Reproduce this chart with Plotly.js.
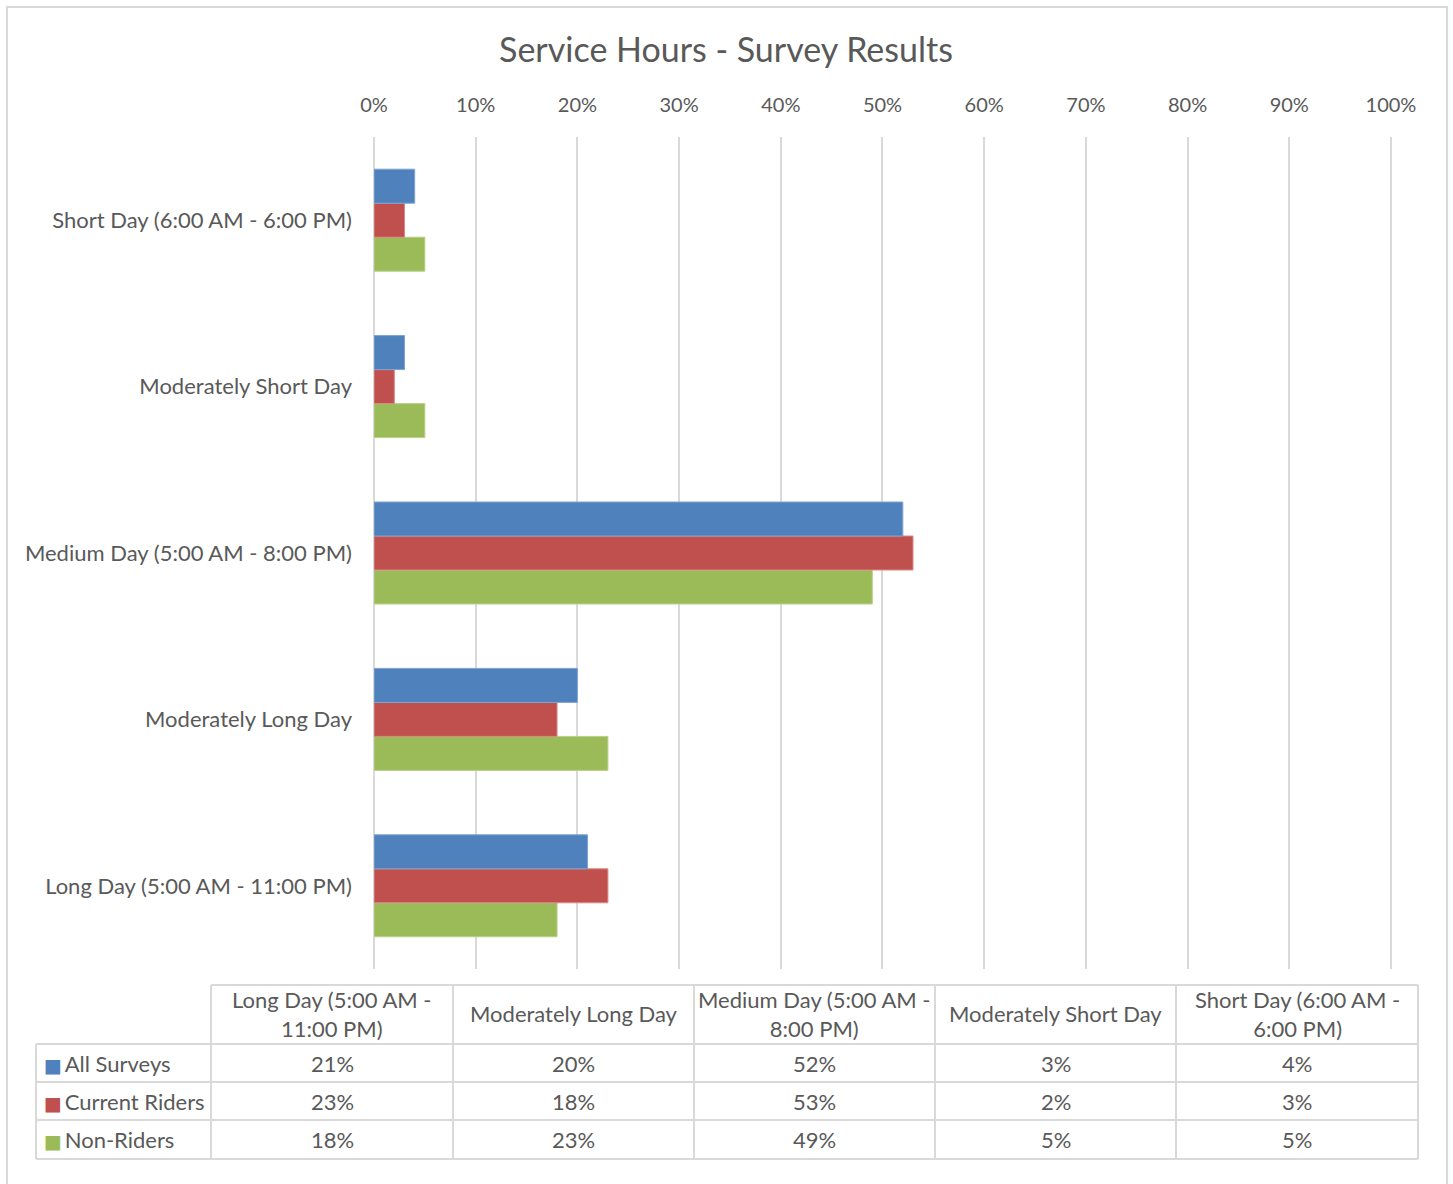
<!DOCTYPE html>
<html>
<head>
<meta charset="utf-8">
<script src="https://cdn.plot.ly/plotly-3.0.1.min.js"></script>
<style>html,body{margin:0;padding:0;background:#fff;}#chart{width:1453px;height:1184px;}</style>
</head>
<body>
<div id="chart"></div>
<script>
// Data (table order: Long Day first)
const categories = ["Long Day (5:00 AM - 11:00 PM)", "Moderately Long Day", "Medium Day (5:00 AM - 8:00 PM)", "Moderately Short Day", "Short Day (6:00 AM - 6:00 PM)"];
const tableHeaders = ["Long Day (5:00 AM -<br>11:00 PM)", "Moderately Long Day", "Medium Day (5:00 AM -<br>8:00 PM)", "Moderately Short Day", "Short Day (6:00 AM -<br>6:00 PM)"];
const seriesNames = ["All Surveys", "Current Riders", "Non-Riders"];
const allSurveys = [0.21, 0.20, 0.52, 0.03, 0.04];
const currentRiders = [0.23, 0.18, 0.53, 0.02, 0.03];
const nonRiders = [0.18, 0.23, 0.49, 0.05, 0.05];
const xTickVals = [0, 0.1, 0.2, 0.3, 0.4, 0.5, 0.6, 0.7, 0.8, 0.9, 1.0];

const colors = {"All Surveys": "#4F81BD", "Current Riders": "#C0504D", "Non-Riders": "#9BBB59"};
const lineColors = {"All Surveys": "#7fa3d1", "Current Riders": "#d88a88", "Non-Riders": "#b9d08a"};
const seriesValues = {"All Surveys": allSurveys, "Current Riders": currentRiders, "Non-Riders": nonRiders};

const W = 1453, H = 1184;
const textColor = "#595959";
const border = "#d9d9d9";
const fontFam = "Lato, 'Open Sans', sans-serif";
const tableFontSize = 22;

// Bars: first trace drawn lowest in group, so add in reverse to put All Surveys on top
const traces = [];
["Non-Riders", "Current Riders", "All Surveys"].forEach(name => {
  traces.push({
    type: "bar", orientation: "h", name: name,
    y: categories, x: seriesValues[name],
    marker: {color: colors[name], line: {color: lineColors[name], width: 1}},
    hoverinfo: "x+name", showlegend: false
  });
});

// Data table built from the arrays (layout geometry in pixels)
const colEdges = [36, 211, 453, 694, 935, 1176, 1418];
const rowEdges = [985, 1044, 1082, 1120, 1159];
const px = x => x / W, py = y => 1 - y / H;
const pct = v => Math.round(v * 100) + "%";
const shapes = [];
const annotations = [];
const hline = (y, x0, x1) => shapes.push({type: "line", xref: "paper", yref: "paper", x0: px(x0), x1: px(x1), y0: py(y), y1: py(y), line: {color: border, width: 2}});
const vline = (x, y0, y1) => shapes.push({type: "line", xref: "paper", yref: "paper", x0: px(x), x1: px(x), y0: py(y0), y1: py(y1), line: {color: border, width: 2}});
// outer chart border
shapes.push({type: "rect", xref: "paper", yref: "paper", x0: px(7), x1: px(1447), y0: -0.05, y1: py(7),
  line: {color: border, width: 2}, fillcolor: "rgba(0,0,0,0)", layer: "below"});
hline(rowEdges[0], colEdges[1], colEdges[colEdges.length - 1]);
for (let r = 1; r < rowEdges.length; r++) hline(rowEdges[r], colEdges[0], colEdges[colEdges.length - 1]);
vline(colEdges[0], rowEdges[1], rowEdges[rowEdges.length - 1]);
for (let c = 1; c < colEdges.length; c++) vline(colEdges[c], rowEdges[0], rowEdges[rowEdges.length - 1]);

const tfont = {family: fontFam, size: tableFontSize, color: textColor};
tableHeaders.forEach((h, i) => {
  annotations.push({xref: "paper", yref: "paper", x: px((colEdges[i + 1] + colEdges[i + 2]) / 2), y: py((rowEdges[0] + rowEdges[1]) / 2 - 1),
    text: h, showarrow: false, xanchor: "center", yanchor: "middle", align: "center", font: tfont});
});
seriesNames.forEach((n, r) => {
  const yc = py((rowEdges[r + 1] + rowEdges[r + 2]) / 2);
  annotations.push({xref: "paper", yref: "paper", x: px(colEdges[0] + 6), y: yc,
    text: "<span style=\"color:" + colors[n] + ";font-family:'DejaVu Sans';font-size:19px\">■</span>\u2009" + n,
    showarrow: false, xanchor: "left", yanchor: "middle", align: "left", font: tfont});
  categories.forEach((c, i) => {
    annotations.push({xref: "paper", yref: "paper", x: px((colEdges[i + 1] + colEdges[i + 2]) / 2), y: yc,
      text: pct(seriesValues[n][i]), showarrow: false, xanchor: "center", yanchor: "middle", font: tfont});
  });
});

const layout = {
  width: W, height: H,
  margin: {l: 0, r: 0, t: 0, b: 0},
  paper_bgcolor: "#ffffff", plot_bgcolor: "#ffffff",
  font: {family: fontFam, color: textColor, size: 20},
  title: {text: "Service Hours - Survey Results", x: 726 / W, xanchor: "center", y: 1 - 50 / H, yanchor: "middle",
          font: {family: fontFam, size: 34, color: textColor}},
  barmode: "group", bargap: 0.387, bargroupgap: 0,
  xaxis: {
    domain: [374 / W, 1392 / W], range: [0, 1.001], side: "top",
    tickvals: xTickVals, tickformat: ".0%",
    showgrid: true, gridcolor: border, gridwidth: 2,
    zeroline: true, zerolinecolor: border, zerolinewidth: 2,
    showline: false, ticks: "",
    ticklabelstandoff: 20,
    tickfont: {family: fontFam, size: 20, color: textColor}, fixedrange: true
  },
  yaxis: {
    domain: [1 - 969 / H, 1 - 137 / H],
    type: "category", categoryorder: "array", categoryarray: categories,
    showgrid: false, zeroline: false, showline: false, ticks: "",
    ticklabelstandoff: 21,
    tickfont: {family: fontFam, size: 22, color: textColor}, fixedrange: true
  },
  shapes: shapes,
  annotations: annotations
};

Plotly.newPlot("chart", traces, layout, {displayModeBar: false, staticPlot: true});
</script>
</body>
</html>
